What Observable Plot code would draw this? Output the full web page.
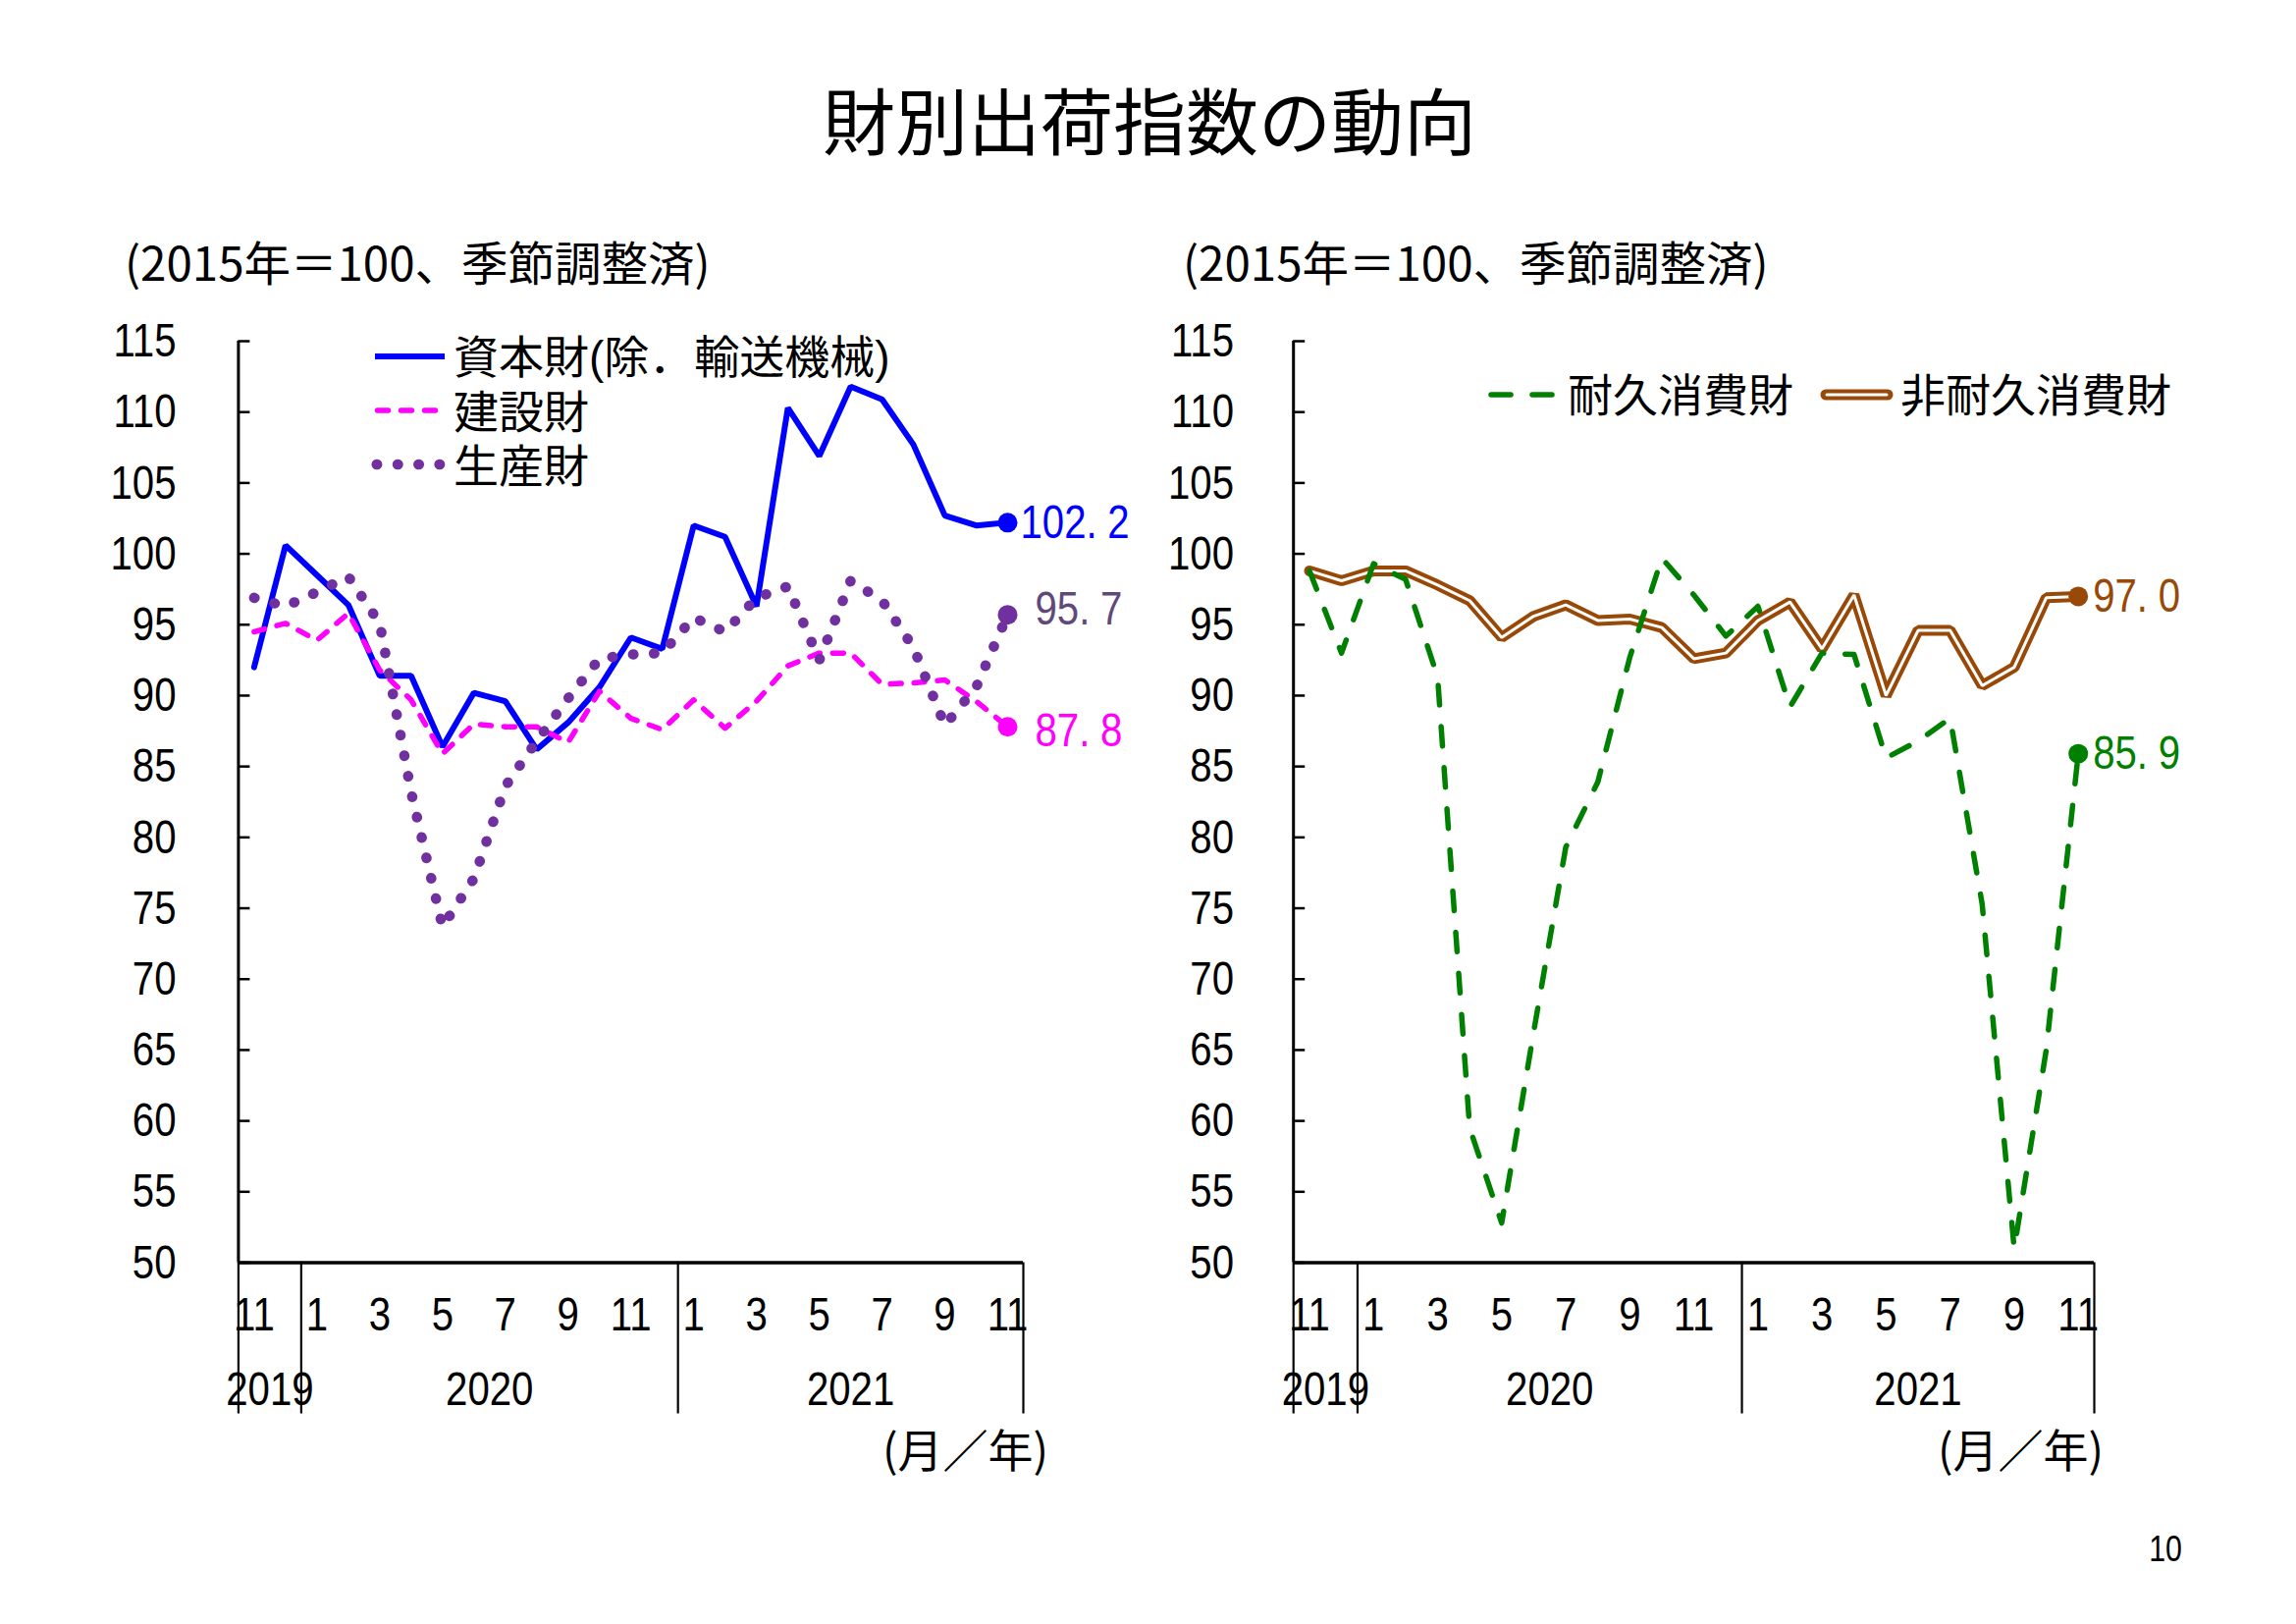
<!DOCTYPE html>
<html><head><meta charset="utf-8">
<script src="https://cdn.jsdelivr.net/npm/d3@7"></script>
<script src="https://cdn.jsdelivr.net/npm/@observablehq/plot@0.6"></script>
<style>
html,body{margin:0;padding:0;background:#fff;}
#page{position:relative;width:2339px;height:1654px;overflow:hidden;background:#fff;}
#page > svg{position:absolute;}
</style></head><body><div id="page"></div>
<script>
// ---------------- data ----------------
const periods = ["2019-11","2019-12","2020-01","2020-02","2020-03","2020-04","2020-05","2020-06","2020-07","2020-08","2020-09","2020-10","2020-11","2020-12","2021-01","2021-02","2021-03","2021-04","2021-05","2021-06","2021-07","2021-08","2021-09","2021-10","2021-11"];
const monthNumbers = [11,12,1,2,3,4,5,6,7,8,9,10,11,12,1,2,3,4,5,6,7,8,9,10,11];
const yearLabels = ["2019","2020","2021"];
const yTicks = [50,55,60,65,70,75,80,85,90,95,100,105,110,115];

// 資本財(除．輸送機械)
const capitalGoods = [92.0,100.6,98.5,96.4,91.4,91.4,86.4,90.2,89.6,86.2,88.1,90.6,94.1,93.3,102.0,101.2,96.3,110.3,106.9,111.8,110.9,107.7,102.7,102.0,102.2];
// 建設財
const constructionGoods = [94.5,95.1,93.9,95.8,91.8,89.7,85.9,88.0,87.8,87.8,86.7,90.3,88.4,87.6,89.7,87.7,89.6,92.1,93.0,93.0,90.8,90.9,91.1,89.6,87.8];
// 生産財
const producerGoods = [96.9,96.3,97.3,98.4,95.1,83.2,73.7,77.1,83.6,86.8,89.8,92.6,92.9,93.0,95.5,94.5,96.9,97.7,92.5,98.1,96.7,93.4,87.9,90.6,95.7];
// 耐久消費財
const durableGoods = [98.8,93.0,99.3,98.2,91.3,59.5,52.8,66.3,79.3,83.9,92.7,99.7,97.1,94.2,96.3,89.2,93.0,92.9,85.6,86.8,88.4,75.3,51.0,65.0,85.9];
// 非耐久消費財
const nondurableGoods = [98.8,98.1,98.8,98.8,97.8,96.7,94.1,95.6,96.4,95.3,95.4,94.8,92.6,93.0,95.3,96.6,93.3,97.1,90.0,94.6,94.6,90.7,92.0,96.9,97.0];

const titleText = "財別出荷指数の動向";
const subtitleText = "(2015年＝100、季節調整済)";
const unitText = "(月／年)";
const pageNumber = "10";

// ---------------- styles ----------------
const NUM = '"Liberation Sans",Arial,sans-serif';
const CJK = '"Noto Sans CJK JP",sans-serif';
const MIX = '"Liberation Sans","Noto Sans CJK JP",sans-serif';
const SQUEEZE = 0.82;
const leftSeries = [
  {name:"資本財(除．輸送機械)", values: capitalGoods, color:"#0000FF", labelColor:"#0000FF", kind:"solid", dx:13, dy:0},
  {name:"建設財", values: constructionGoods, color:"#FF00FF", labelColor:"#FF00FF", kind:"dash", dx:28, dy:4},
  {name:"生産財", values: producerGoods, color:"#7030A0", labelColor:"#5F497A", kind:"dot", dx:28, dy:-6}
];
const rightSeries = [
  {name:"非耐久消費財", values: nondurableGoods, color:"#984807", labelColor:"#984807", kind:"double", dx:15, dy:0},
  {name:"耐久消費財", values: durableGoods, color:"#008000", labelColor:"#008000", kind:"longdash", dx:15, dy:0}
];

function lineStyle(kind, color) {
  switch (kind) {
    case "solid": return [{stroke: color, strokeWidth: 6, strokeLinejoin: "miter"}];
    case "dash": return [{stroke: color, strokeWidth: 5.5, strokeDasharray: "11 13", strokeLinecap: "round"}];
    case "dot": return [{stroke: color, strokeWidth: 10.5, strokeDasharray: "0.5 20.8", strokeLinecap: "round"}];
    case "longdash": return [{stroke: color, strokeWidth: 5.5, strokeDasharray: "20 22", strokeLinecap: "round"}];
    case "double": return [{stroke: color, strokeWidth: 11, strokeLinejoin: "miter"}, {stroke: "#fff", strokeWidth: 3, strokeLinejoin: "miter"}];
  }
}

function seriesMarks(s) {
  const data = s.values.map((v, i) => ({i, v}));
  const last = [data[data.length - 1]];
  return [
    ...lineStyle(s.kind, s.color).map(st => Plot.line(data, {x: "i", y: "v", ...st})),
    Plot.dot(last, {x: "i", y: "v", r: 10, fill: s.color}),
    Plot.text(last, {x: "i", y: "v", text: d => d.v.toFixed(1), dx: s.dx, dy: s.dy, fill: s.labelColor,
      textAnchor: "start", lineAnchor: "middle", fontSize: 49, fontFamily: NUM})
  ];
}

// derived axis helpers
const idx = periods.map((p, i) => i);
const years = periods.map(p => p.slice(0, 4));
const yearGroups = yearLabels.map(y => {
  const ii = idx.filter(i => years[i] === y);
  return {year: y, first: d3.min(ii), last: d3.max(ii)};
});
const yearCenters = yearGroups.map(g => (g.first + g.last) / 2);
const yearByCenter = new Map(yearGroups.map((g, k) => [yearCenters[k], g.year]));
const dividers = [yearGroups[0].first - 0.5, ...yearGroups.map(g => g.last + 0.5)];
const monthTicks = idx.filter(i => i % 2 === 0);

function chart({width, marginLeft, marginRight, labelPad, series}) {
  const svg = Plot.plot({
    width, height: 1200,
    marginTop: 47, marginBottom: 214.5, marginLeft, marginRight,
    style: {fontFamily: NUM, fontSize: "49px", color: "#000", background: "transparent", overflow: "visible"},
    x: {type: "linear", domain: [-0.5, periods.length - 0.5]},
    y: {type: "linear", domain: [50, 115]},
    marks: [
      Plot.axisY({ticks: yTicks, tickSize: -12, tickFormat: () => "", strokeWidth: 2.5, label: null}),
      Plot.axisY({ticks: yTicks, tickSize: 0, tickPadding: labelPad, fontSize: 49, label: null}),
      Plot.axisX({ticks: monthTicks, tickSize: 0, tickPadding: 33.7, tickFormat: i => String(monthNumbers[i]), fontSize: 49, label: null}),
      Plot.axisX({ticks: yearCenters, tickSize: 0, tickPadding: 110.3, tickFormat: d => yearByCenter.get(d), fontSize: 49, label: null}),
      Plot.axisX({ticks: dividers, tickSize: 154, tickFormat: () => "", strokeWidth: 2.2, label: null}),
      Plot.ruleX([-0.5], {strokeWidth: 3}),
      Plot.ruleY([50], {strokeWidth: 3.5}),
      ...series.flatMap(seriesMarks)
    ]
  });
  // narrow the digits (condensed look of the original)
  d3.select(svg).selectAll("text").each(function () {
    const t = this.getAttribute("transform");
    if (t) this.setAttribute("transform", t + ` scale(${SQUEEZE},1)`);
    // the original sets the decimal point in a full digit cell: "102. 2"
    const s = this.textContent;
    if (/^\d+\.\d$/.test(s) && !this.querySelector("tspan")) {
      const [a, b] = s.split(".");
      this.textContent = "";
      d3.select(this).append("tspan").text(a + ".");
      d3.select(this).append("tspan").attr("dx", 13).text(b);
    }
  });
  return svg;
}

const page = document.getElementById("page");
const left = chart({width: 1170, marginLeft: 242.4, marginRight: 128, labelPad: 63.4, series: leftSeries});
left.style.left = "0px"; left.style.top = "300px";
page.appendChild(left);
const right = chart({width: 1169, marginLeft: 147.2, marginRight: 206, labelPad: 60.7, series: rightSeries});
right.style.left = "1170px"; right.style.top = "300px";
page.appendChild(right);

// ---------------- static text & legends ----------------
const ov = d3.create("svg").attr("width", 2339).attr("height", 1654)
  .style("left", "0px").style("top", "0px").style("pointer-events", "none");
function txt(s, x, y, size, anchor = "start", family = CJK, sx = 1) {
  return ov.append("text").attr("transform", `translate(${x},${y}) scale(${sx},1)`)
    .attr("font-size", size).attr("font-family", family)
    .attr("text-anchor", anchor).attr("fill", "#000").text(s);
}
txt(titleText, 1171, 152, 74, "middle");
txt(subtitleText, 127, 286, 47.5);
txt(subtitleText, 1205, 286, 47.5);
txt(unitText, 1068, 1494, 46, "end");
txt(unitText, 2143, 1494, 46, "end");
txt(pageNumber, 2223, 1590, 37, "end", NUM, SQUEEZE);

function sample(kind, color, x1, x2, y) {
  lineStyle(kind, color).forEach((st, k) => {
    const l = ov.append("line").attr("x1", x1).attr("x2", x2).attr("y1", y).attr("y2", y)
      .attr("stroke", st.stroke).attr("stroke-width", st.strokeWidth)
      .attr("stroke-linecap", kind === "double" ? "round" : (st.strokeLinecap || "butt"));
    if (st.strokeDasharray) l.attr("stroke-dasharray", st.strokeDasharray);
    if (kind === "double" && k === 1) l.attr("x1", x1 + 1).attr("x2", x2 - 1);
  });
}
// left legend
sample("solid", leftSeries[0].color, 382, 453, 363);
sample("dash", leftSeries[1].color, 384.5, 445, 418);
sample("dot", leftSeries[2].color, 383.7, 448.5, 473);
[380, 435.5, 490.5].forEach((y, k) => txt(leftSeries[k].name, 462, y, 46, "start", MIX));
// right legend
sample("longdash", rightSeries[1].color, 1519, 1581, 402);
txt(rightSeries[1].name, 1597, 418.5, 46, "start", MIX);
sample("double", rightSeries[0].color, 1860, 1923, 402);
txt(rightSeries[0].name, 1936, 418.5, 46, "start", MIX);

page.appendChild(ov.node());
</script></body></html>
